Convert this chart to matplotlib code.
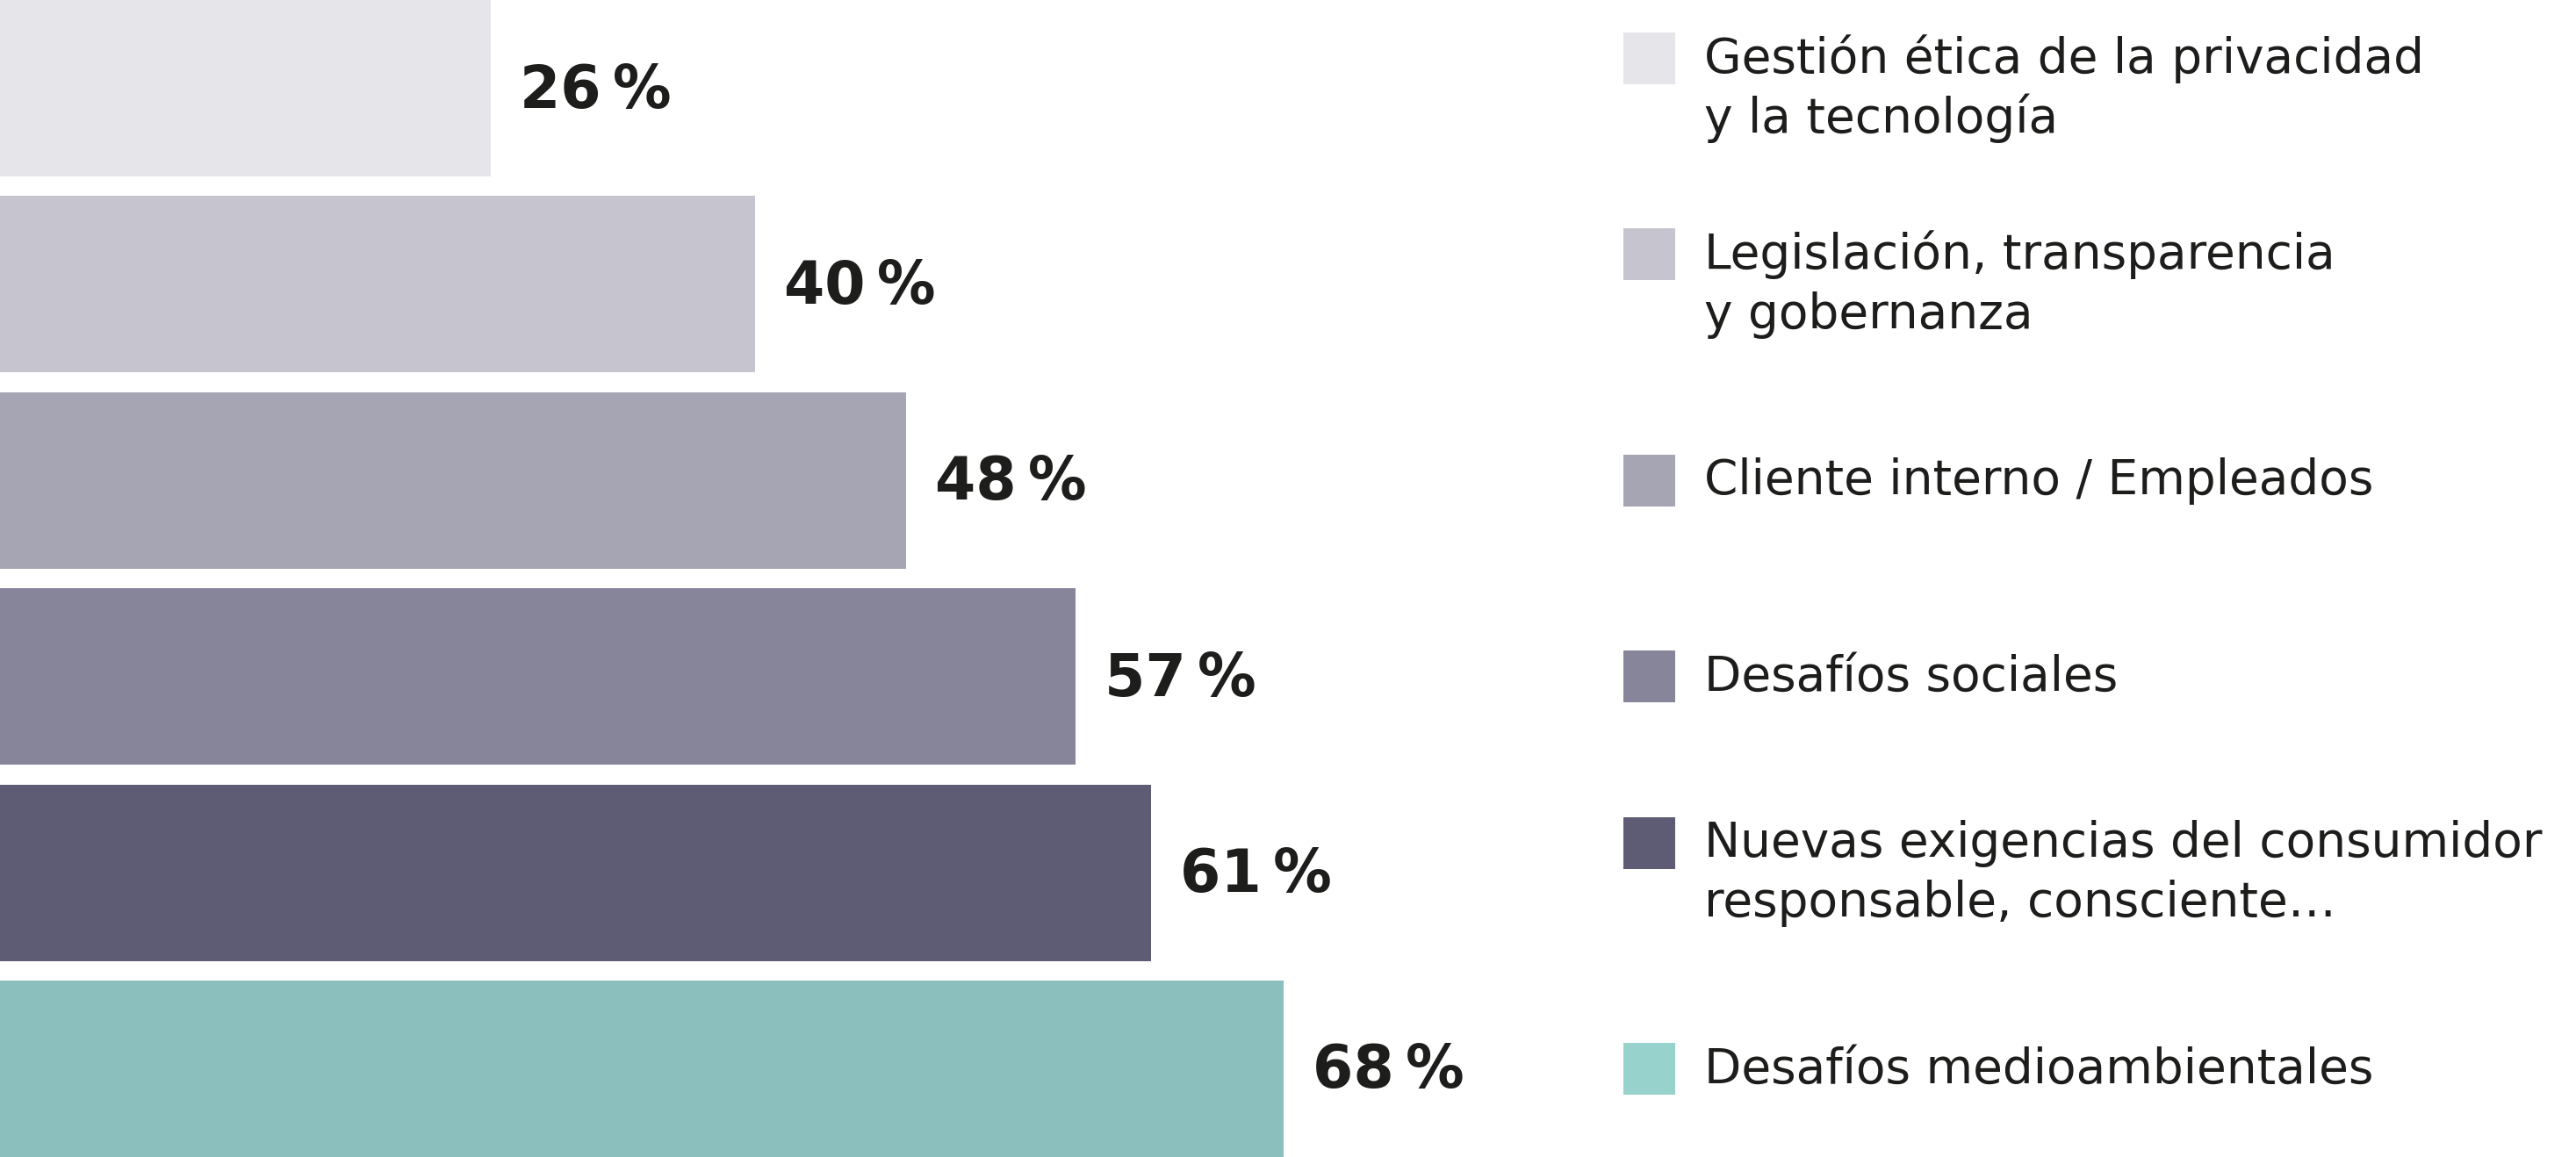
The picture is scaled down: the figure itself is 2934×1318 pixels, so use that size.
import matplotlib
matplotlib.use("Agg")
import matplotlib.pyplot as plt
from matplotlib.patches import Rectangle

# Datos: porcentaje por categoría (de arriba a abajo)
valores = [26, 40, 48, 57, 61, 68]
etiquetas = [
    ["Gestión ética de la privacidad", "y la tecnología"],
    ["Legislación, transparencia", "y gobernanza"],
    ["Cliente interno / Empleados"],
    ["Desafíos sociales"],
    ["Nuevas exigencias del consumidor", "responsable, consciente…"],
    ["Desafíos medioambientales"],
]
colores_barra = ["#e6e5ea", "#c6c5cf", "#a6a5b3", "#878599", "#5e5c75", "#8abfbe"]
colores_leyenda = ["#e6e5ea", "#c6c5cf", "#a6a5b3", "#878599", "#5e5c75", "#98d2cc"]

W, H = 2934, 1318
fig = plt.figure(figsize=(W / 100, H / 100), dpi=100)
ax = fig.add_axes([0, 0, 1, 1])

x_max = 136.5
ax.set_xlim(0, x_max)
ax.set_ylim(5.45, -0.45)
ax.axis("off")

# conversión de píxeles a unidades de datos
px_x = x_max / W
px_y = 5.9 / H

color_texto = "#1d1d1b"
fuente = "DejaVu Sans"

y = list(range(len(valores)))
ax.barh(y, valores, height=0.9, color=colores_barra, linewidth=0)

for i, v in enumerate(valores):
    ax.text(v + 33 * px_x, i + 22 * px_y, f"{v}\u2009%", ha="left", va="baseline",
            fontsize=48, fontweight="bold", color=color_texto, family=fuente)

# leyenda a la derecha
x_cuadro = 1849 * px_x
x_texto = 1941 * px_x
lado = 59
interlinea = 68
for i, lineas in enumerate(etiquetas):
    yc = i - (len(lineas) - 1) * interlinea / 2 * px_y
    ax.add_patch(Rectangle((x_cuadro, yc - lado / 2 * px_y), lado * px_x, lado * px_y,
                           facecolor=colores_leyenda[i], linewidth=0))
    for k, linea in enumerate(lineas):
        ax.text(x_texto, yc + (16 + k * interlinea) * px_y, linea, ha="left", va="baseline",
                fontsize=39.6, color=color_texto, family=fuente)

fig.savefig("out.png", dpi=100, facecolor="white")
